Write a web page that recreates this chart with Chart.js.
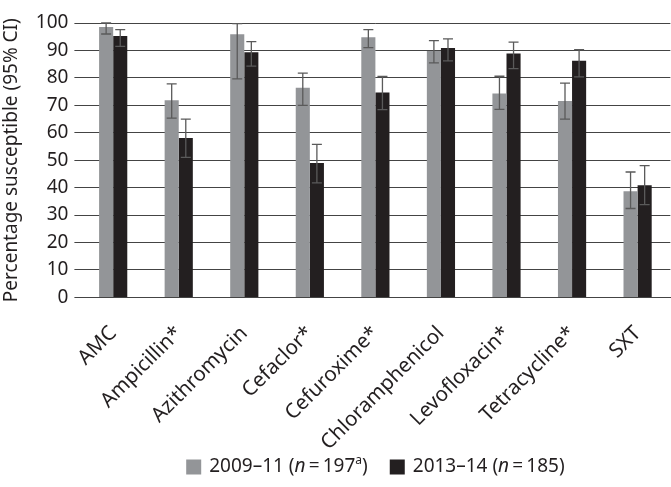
<!DOCTYPE html>
<html>
<head>
<meta charset="utf-8">
<script src="https://cdn.jsdelivr.net/npm/chart.js@4"></script>
<style>
  html, body { margin: 0; padding: 0; background: #fff; }
  #wrap { width: 671px; height: 487px; }
</style>
</head>
<body>
<div id="wrap"><canvas id="barChart" width="671" height="487"></canvas></div>
<script>
const categories = ['AMC', 'Ampicillin*', 'Azithromycin', 'Cefaclor*', 'Cefuroxime*',
  'Chloramphenicol', 'Levofloxacin*', 'Tetracycline*', 'SXT'];

const early = [98.5, 71.8, 95.9, 76.4, 94.8, 89.8, 74.3, 71.6, 38.7];
const earlyLow = [96.0, 65.3, 79.6, 70.0, 91.0, 85.5, 68.5, 65.0, 32.4];
const earlyHigh = [100.0, 77.8, 99.8, 81.7, 97.6, 93.6, 80.6, 78.1, 45.7];

const late = [95.3, 58.1, 89.3, 49.0, 74.7, 90.9, 88.9, 86.2, 40.9];
const lateLow = [91.5, 51.0, 84.3, 41.7, 68.4, 86.2, 83.4, 80.4, 33.8];
const lateHigh = [97.6, 65.0, 93.2, 55.8, 80.5, 94.2, 93.0, 90.3, 48.0];

const yTicks = [0, 10, 20, 30, 40, 50, 60, 70, 80, 90, 100];

const grey = '#939598';
const black = '#231f20';
const font = '"Noto Sans", "Open Sans", sans-serif';
const fs = 19;

// draws the 95% CI whiskers from the low/high arrays
const errorBars = {
  id: 'errorBars',
  afterDatasetsDraw(chart) {
    const ctx = chart.ctx;
    const y = chart.scales.y;
    const ranges = [[earlyLow, earlyHigh], [lateLow, lateHigh]];
    ctx.save();
    ctx.strokeStyle = '#5a5a5a';
    ctx.lineWidth = 1.3;
    chart.data.datasets.forEach((ds, i) => {
      const meta = chart.getDatasetMeta(i);
      meta.data.forEach((bar, j) => {
        const lo = y.getPixelForValue(ranges[i][0][j]);
        const hi = y.getPixelForValue(ranges[i][1][j]);
        const x = bar.x;
        ctx.beginPath();
        ctx.moveTo(x, lo); ctx.lineTo(x, hi);
        ctx.moveTo(x - 5, lo); ctx.lineTo(x + 5, lo);
        ctx.moveTo(x - 5, hi); ctx.lineTo(x + 5, hi);
        ctx.stroke();
      });
    });
    ctx.restore();
  }
};

// legend with italic n and superscript a
const customLegend = {
  id: 'customLegend',
  afterDraw(chart) {
    const ctx = chart.ctx;
    const items = [
      { color: grey, parts: [['2009–11 (', 'n'], ['n', 'i'], ['\u2009=\u2009197', 'n'], ['a', 's'], [')', 'n']] },
      { color: black, parts: [['2013–14 (', 'n'], ['n', 'i'], ['\u2009=\u2009185', 'n'], [')', 'n']] }
    ];
    const fontFor = (k) => k === 'i' ? `italic ${fs}px ${font}` : k === 's' ? `${Math.round(fs * 0.65)}px ${font}` : `${fs}px ${font}`;
    const box = 15, gapBox = 8, gapItem = 22;
    let widths = items.map(it => it.parts.reduce((w, p) => { ctx.font = fontFor(p[1]); return w + ctx.measureText(p[0]).width; }, 0));
    const total = widths.reduce((a, w) => a + box + gapBox + w, 0) + gapItem;
    const area = chart.chartArea;
    let x = (area.left + area.right) / 2 - total / 2;
    const cy = 467;
    ctx.save();
    ctx.textBaseline = 'middle';
    items.forEach((it) => {
      ctx.fillStyle = it.color;
      ctx.fillRect(x, cy - box / 2, box, box);
      x += box + gapBox;
      ctx.fillStyle = black;
      it.parts.forEach(p => {
        ctx.font = fontFor(p[1]);
        ctx.fillText(p[0], x, p[1] === 's' ? cy - 6 : cy);
        x += ctx.measureText(p[0]).width;
      });
      x += gapItem;
    });
    ctx.restore();
  }
};

new Chart(document.getElementById('barChart'), {
  type: 'bar',
  data: {
    labels: categories,
    datasets: [
      { label: '2009–11', data: early, backgroundColor: grey },
      { label: '2013–14', data: late, backgroundColor: black }
    ]
  },
  options: {
    responsive: false,
    animation: false,
    layout: { padding: { top: 23, right: 0, bottom: 16, left: 0 } },
    categoryPercentage: 0.43,
    barPercentage: 1.0,
    scales: {
      x: {
        grid: { display: false },
        border: { display: true, color: '#444', width: 1 },
        ticks: { color: black, font: { family: font, size: 20.5 }, maxRotation: 45, minRotation: 45, padding: 16 }
      },
      y: {
        min: 0,
        max: 100,
        afterBuildTicks(axis) { axis.ticks = yTicks.map(v => ({ value: v })); },
        grid: { color: '#444', lineWidth: 1, drawTicks: true, tickLength: 6 },
        border: { display: false },
        ticks: { color: black, font: { family: font, size: fs }, padding: 6 },
        title: { display: true, text: 'Percentage susceptible (95% CI)', color: black, font: { family: font, size: fs }, padding: { top: 0, bottom: 7 } }
      }
    },
    plugins: {
      legend: { display: false },
      tooltip: { enabled: false }
    }
  },
  plugins: [errorBars, customLegend]
});
</script>
</body>
</html>
